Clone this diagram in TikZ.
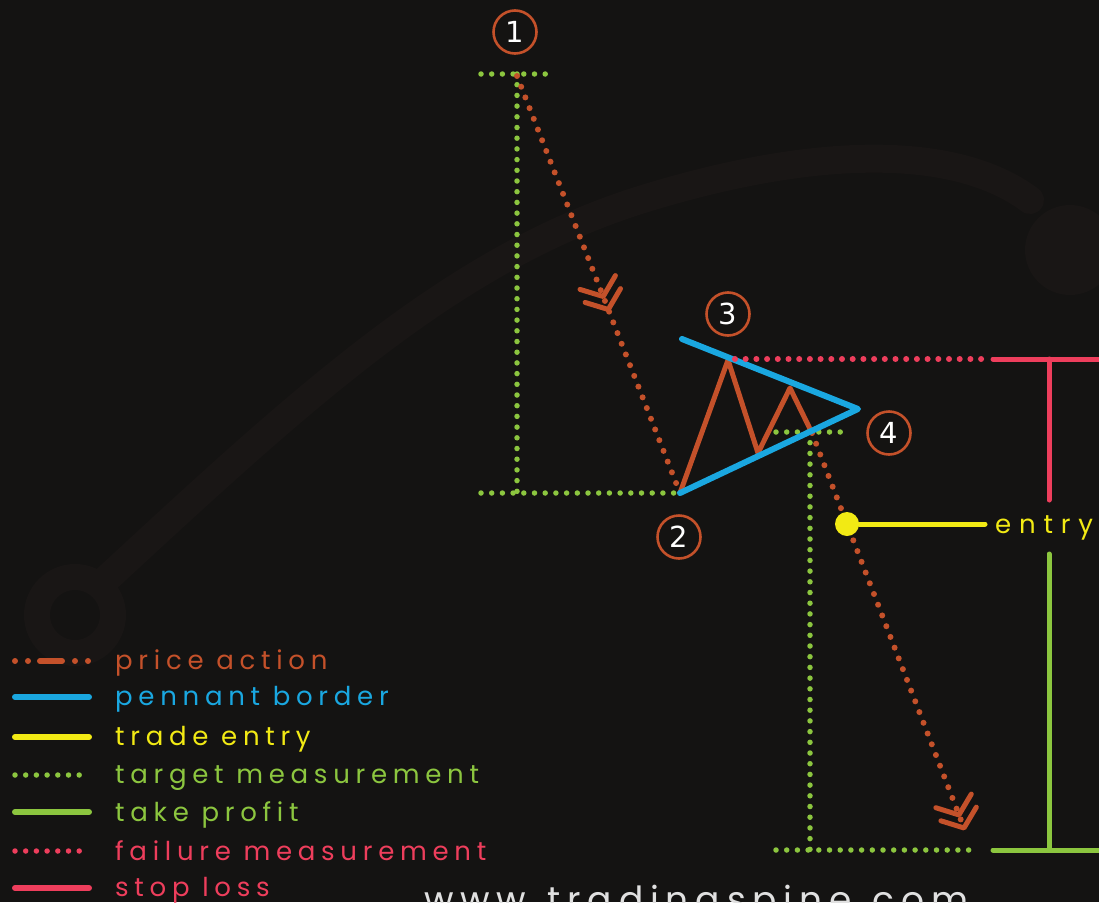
\documentclass[tikz,border=0pt]{standalone}
\usepackage{fontspec}
\setmainfont{Poppins}
\newfontfamily\digfont{DejaVu Sans}
\usetikzlibrary{decorations.markings}

\definecolor{bgcol}{HTML}{141312}
\definecolor{markcol}{HTML}{191615}
\definecolor{paorange}{HTML}{C4512A}
\definecolor{penblue}{HTML}{1AA7E0}
\definecolor{entryyel}{HTML}{F2EA14}
\definecolor{tpgreen}{HTML}{8CC63F}
\definecolor{slred}{HTML}{EE3E5C}

\newcommand{\legfont}{\fontsize{26}{26}\selectfont\addfontfeatures{LetterSpace=22}}
\newcommand{\chevpair}{%
  \draw[solid, paorange, line width=5pt, line cap=round, line join=round] (-15pt,-19pt) -- (0pt,0pt) -- (-15pt,19pt);
  \draw[solid, paorange, line width=5pt, line cap=round, line join=round] (-29pt,-19pt) -- (-14pt,0pt) -- (-29pt,19pt);}

\begin{document}
\begin{tikzpicture}[x=1pt, y=-1pt,
  dotline/.style={line width=5.5pt, line cap=round, dash pattern=on 0pt off 10.7pt},
  padots/.style={paorange, line width=6pt, line cap=round, dash pattern=on 0pt off 11.5pt},
  fullline/.style={line width=5pt, line cap=round},
  numcirc/.style={circle, draw=paorange, line width=2.6pt, minimum size=43pt, inner sep=0pt, text=white, font=\digfont\fontsize{29}{29}\selectfont},
  legtext/.style={anchor=base west, inner sep=0pt, font=\legfont},
  midchev/.style={postaction={decorate, decoration={markings, mark=at position 0.56 with {\chevpair}}}},
  endchev/.style={postaction={decorate, decoration={markings, mark=at position 1 with {\chevpair}}}}
]
\useasboundingbox (0,0) rectangle (1099,902);
\fill[bgcol] (0,0) rectangle (1099,902);
\clip (0,0) rectangle (1099,902);

% faint logo behind everything
\draw[markcol, line width=26pt] (75,615) circle (38);
\draw[markcol, line width=28pt, line cap=round] (100,585) .. controls (300,400) and (450,260) .. (640,200) .. controls (800,150) and (950,140) .. (1030,200);
\fill[markcol] (1070,250) circle (45);

% pattern points
\coordinate (p1)   at (517,76);
\coordinate (p2)   at (680,493);
\coordinate (h3)   at (728,360);
\coordinate (t1)   at (758,453);
\coordinate (h2)   at (790,388);
\coordinate (p4)   at (812,433);
\coordinate (tgt)  at (964,828);
\coordinate (bUp)  at (682,339);
\coordinate (apex) at (858,409);

% numbered markers
\node[numcirc] (n1) at (515,32)  {1};
\node[numcirc] (n2) at (679,537) {2};
\node[numcirc] (n3) at (728,314) {3};
\node[numcirc] (n4) at (889,433) {4};

% target measurement (pole)
\coordinate (tmTL)  at (481,74);
\coordinate (tmTR)  at (551,74);
\coordinate (tmTop) at (517,74);
\coordinate (tmBot) at (517,493);
\coordinate (tmBL)  at (481,493);
\draw[dotline, tpgreen] (tmTL) -- (tmTR);
\draw[dotline, tpgreen] (tmTop) -- (tmBot);
\draw[dotline, tpgreen] (tmBL) -- (p2);

% target measurement (projection)
\coordinate (tgL)   at (776,432);
\coordinate (tgR)   at (846,432);
\coordinate (tgTop) at (810,432);
\coordinate (tgBot) at (810,850);
\coordinate (tpL)   at (776,850);
\coordinate (tpR)   at (975,850);
\draw[dotline, tpgreen] (tgL) -- (tgR);
\draw[dotline, tpgreen] (tgTop) -- (tgBot);
\draw[dotline, tpgreen] (tpL) -- (tpR);

% take profit
\coordinate (tpS)   at (993,850);
\coordinate (tpE)   at (1105,850);
\coordinate (tpMid) at (1049,850);
\coordinate (tpTop) at (1049,554);
\draw[fullline, tpgreen] (tpS) -- (tpE);
\draw[fullline, tpgreen] (tpMid) -- (tpTop);

% price action
\draw[padots, midchev] (p1) -- (p2);
\draw[fullline, paorange, line join=round] (p2) -- (h3) -- (t1) -- (h2) -- (p4);
\draw[padots, endchev] (p4) -- (tgt);

% pennant border
\draw[penblue, line width=6pt, line cap=round, line join=round] (bUp) -- (apex) -- (p2);

% failure measurement and stop loss
\coordinate (fmL)   at (735,359);
\coordinate (fmR)   at (982,359);
\coordinate (slL)   at (993,359);
\coordinate (slR)   at (1105,359);
\coordinate (slMid) at (1049,359);
\coordinate (slBot) at (1049,500);
\draw[dotline, slred, line width=6pt] (fmL) -- (fmR);
\draw[fullline, slred] (slL) -- (slR);
\draw[fullline, slred] (slMid) -- (slBot);

% trade entry
\node[circle, fill=entryyel, minimum size=24pt, inner sep=0pt] (edot) at (847,524) {};
\coordinate (eEnd) at (985,524);
\draw[fullline, entryyel] (edot) -- (eEnd);
\node[legtext, text=entryyel, font=\legfont\addfontfeatures{LetterSpace=30}] (entry) at (995,533) {entry};

% legend
\draw[paorange, line width=6pt, line cap=round, dash pattern=on 0pt off 13pt on 0pt off 12pt on 22pt off 13pt on 0pt off 13pt on 0pt off 100pt] (15,661) -- (89,661);
\draw[fullline, penblue, line width=6pt] (15,697) -- (89,697);
\draw[fullline, entryyel, line width=6pt] (15,737) -- (89,737);
\draw[dotline, tpgreen] (15,775) -- (89,775);
\draw[fullline, tpgreen, line width=6pt] (15,812) -- (89,812);
\draw[dotline, slred] (15,851) -- (89,851);
\draw[fullline, slred, line width=6pt] (15,888) -- (89,888);
\node[legtext, text=paorange] (lg1) at (115,669) {price action};
\node[legtext, text=penblue]  (lg2) at (115,705) {pennant border};
\node[legtext, text=entryyel] (lg3) at (115,745) {trade entry};
\node[legtext, text=tpgreen]  (lg4) at (115,783) {target measurement};
\node[legtext, text=tpgreen]  (lg5) at (115,821) {take profit};
\node[legtext, text=slred]    (lg6) at (115,860) {failure measurement};
\node[legtext, text=slred]    (lg7) at (115,896) {stop loss};

% site
\node[anchor=base west, inner sep=0pt, text=white!88!black, font=\fontsize{36}{36}\selectfont\addfontfeatures{LetterSpace=19}] (site) at (424,912) {www.tradingspine.com};
\end{tikzpicture}
\end{document}
